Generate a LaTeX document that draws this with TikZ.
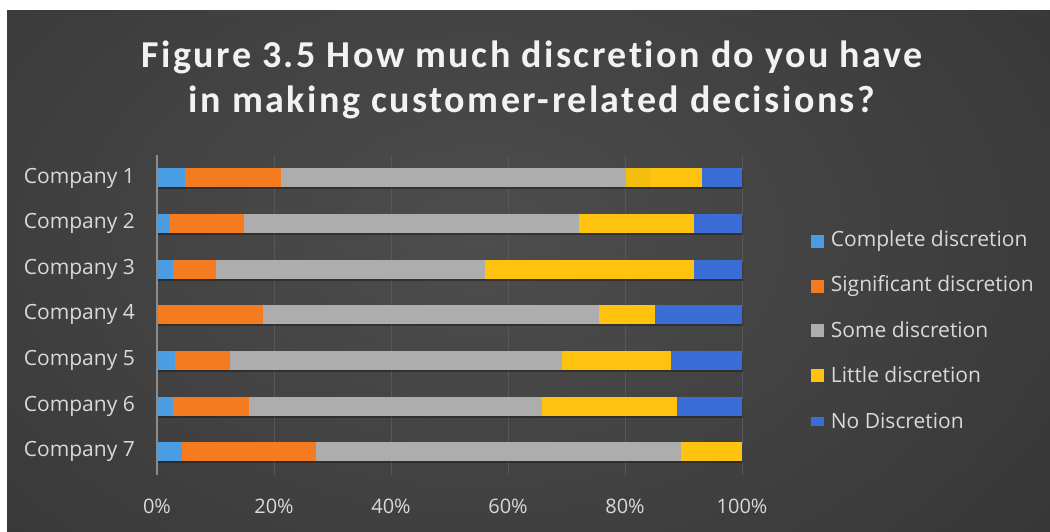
\documentclass[tikz,border=0pt]{standalone}
\usepackage{fontspec}
\setmainfont{Open Sans}
\newfontfamily\titlefont[LetterSpace=6.5, Ligatures=NoCommon]{Carlito}
\usetikzlibrary{positioning}

\definecolor{bgmid}{HTML}{4D4D4D}
\definecolor{bgedge}{HTML}{262626}
\definecolor{complete}{HTML}{4A9DE3}
\definecolor{significant}{HTML}{F47B20}
\definecolor{some}{HTML}{ADADAD}
\definecolor{little}{HTML}{FFC20E}
\definecolor{littledark}{HTML}{F2BD0C}
\definecolor{nodisc}{HTML}{3A6ED6}
\definecolor{labelgray}{HTML}{D9D9D9}
\definecolor{gridgray}{HTML}{575757}
\definecolor{axisgray}{HTML}{8C8C8C}

\tikzset{
  titletext/.style={align=center, text=white!95!black, inner sep=0pt,
    font=\titlefont\bfseries\fontsize{38}{45}\selectfont},
  catlabel/.style={anchor=east, text=labelgray, inner sep=0pt,
    font=\fontsize{21}{24}\selectfont},
  ticklabel/.style={text=labelgray, inner sep=0pt,
    font=\fontsize{20}{24}\selectfont},
  legendbox/.style={minimum size=13pt, inner sep=0pt},
  legendlabel/.style={anchor=west, text=labelgray, inner sep=0pt,
    font=\fontsize{21}{24}\selectfont},
  gridline/.style={draw=gridgray, line width=1pt},
  axisline/.style={draw=axisgray, line width=1.5pt},
}

\begin{document}
\begin{tikzpicture}[x=1pt, y=-1pt]
        \useasboundingbox (0,0) rectangle (1050,532);
        % background
        \fill[white] (0,0) rectangle (1050,532);
        \begin{scope}
            \clip (7,11) rectangle (1050,532);
            \shade[inner color=bgmid, outer color=bgedge] (480,240) ellipse [x radius=1250pt, y radius=850pt];
        \end{scope}

        \node[titletext] (title) at (532,80) {Figure 3.5 How much discretion do you have\\in making customer-related decisions?};

        % grid and axis
        \foreach \p in {20,40,60,80,100}
            \draw[gridline] (157+5.85*\p,155) -- (157+5.85*\p,475);
        \foreach \p in {0,20,40,60,80,100}
            \node[ticklabel] (t\p) at (157+5.85*\p,506) {\p\%};

        % bars: cumulative percentages
        \foreach \n/\a/\b/\c/\d in {1/4.8/21.2/80.2/93.2, 2/2.2/14.9/72.1/91.8,
                3/2.7/10.1/56.1/91.8, 4/0/18.1/75.6/85.1, 5/3.1/12.5/69.2/87.9,
                6/2.7/15.7/65.8/88.9, 7/4.2/27.2/89.6/100} {
            \pgfmathsetmacro\yc{178+45.6*(\n-1)}
            \fill[black, opacity=0.3] (157,\yc-7.5) rectangle (157+5.85*\d,\yc+11.5);
            \fill[black, opacity=0.3] (157+5.85*\d,\yc-7.5) rectangle (743,\yc+11.5);
            \fill[complete] (157,\yc-9.5) rectangle (157+5.85*\a,\yc+9.5);
            \fill[significant] (157+5.85*\a,\yc-9.5) rectangle (157+5.85*\b,\yc+9.5);
            \fill[some] (157+5.85*\b,\yc-9.5) rectangle (157+5.85*\c,\yc+9.5);
            \fill[little] (157+5.85*\c,\yc-9.5) rectangle (157+5.85*\d,\yc+9.5);
            \fill[nodisc] (157+5.85*\d,\yc-9.5) rectangle (742,\yc+9.5);
            \node[catlabel] (c\n) at (135,\yc) {Company \n};
        }
        \fill[littledark] (157+5.85*80.2,168.5) rectangle (157+5.85*84.2,187.5);
        \draw[axisline] (157,155) -- (157,475);

        % legend
        \node[legendbox, fill=complete] (k1) at (817,241) {};
        \node[legendbox, fill=significant] (k2) at (817,286) {};
        \node[legendbox, fill=some] (k3) at (817,330) {};
        \node[legendbox, fill=little] (k4) at (817,375) {};
        \node[legendbox, fill=nodisc, minimum height=9pt] (k5) at (817,421) {};
        \node[legendlabel, right=7pt of k1] (l1) {Complete discretion};
        \node[legendlabel, right=7pt of k2] (l2) {Significant discretion};
        \node[legendlabel, right=7pt of k3] (l3) {Some discretion};
        \node[legendlabel, right=7pt of k4] (l4) {Little discretion};
        \node[legendlabel, right=7pt of k5] (l5) {No Discretion};
    \end{tikzpicture}
\end{document}
